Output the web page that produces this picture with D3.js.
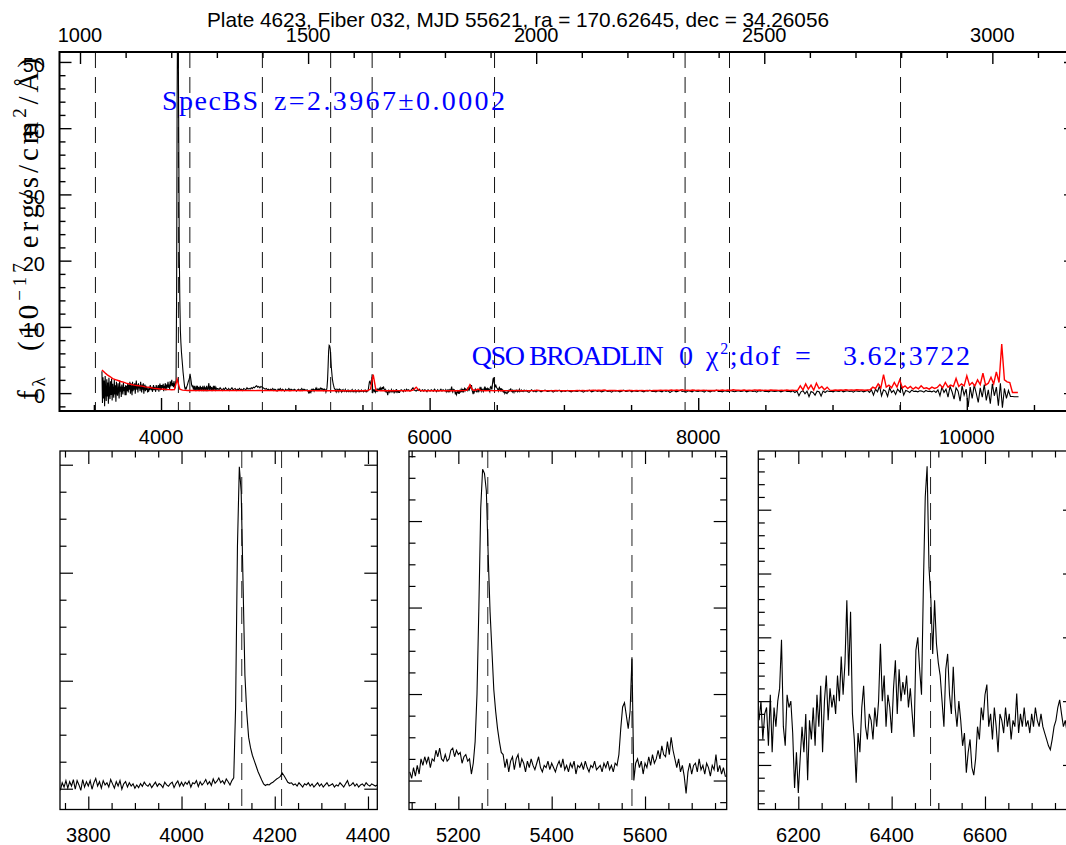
<!DOCTYPE html>
<html><head><meta charset="utf-8">
<script src="https://cdn.jsdelivr.net/npm/d3@7"></script>
<style>
body{margin:0;background:#fff;}
svg{display:block;}
.pre{white-space:pre;}
</style></head><body>
<svg id="chart" width="1066" height="845" font-family="'Liberation Sans',Arial,Helvetica,sans-serif"></svg>
<script>
// ---------------- DATA ----------------
const TITLE = "Plate 4623, Fiber 032, MJD 55621, ra = 170.62645, dec = 34.26056";
const REDSHIFT = 2.3967;
// rest wavelengths of marked lines (OVI, Lya, NV, SiIV, CIV, HeII, CIII], CII], [NeIV], MgII)
const lineRestWaves = [1033.82, 1215.67, 1240.81, 1399.8, 1549.48, 1640.42, 1908.73, 2326.44, 2423.83, 2798.75];
const panelLineRest = [[1215.67, 1240.81], [1549.48, 1640.42], [1908.73]];

// flux segments (1e-17 erg/s/cm2/A), each on a regular wavelength grid
const blueEndStart = 3560, blueEndStep = 4;
const blueEndFlux = [3.3,-1.5,2.4,-0.8,1.9,-2.0,2.6,0.2,-1.2,2.1,-0.5,1.6,-1.6,2.3,0.0,-0.9,1.8,-0.3,2.2,-1.1,1.4,0.3,-0.7,2.0,-0.2,1.2,-1.3,1.7,0.1,-0.4,1.5,0.4,-0.8,1.9,0.2,1.0,-0.6,1.3,0.5,-0.2,1.6,0.3,0.9,-0.3,1.2];

const zoomStep = 4;
const zoom1Start = 3740;
const zoom1Flux = [-0.3,1.1,0.3,1.5,0.1,1.3,0.5,1.7,-0.1,1.5,0.7,-0.3,1.7,0.3,1.3,0.5,
 1.5,-0.1,1.1,1.9,0.5,1.3,0.1,1.5,0.7,1.1,0.3,1.7,0.9,0.1,1.3,0.5,1.5,-0.1,0.9,1.3,0.3,1.1,0.5,0.9,0.1,
 0.7,0.2,0.95,0.45,1.2,0.7,0.45,0.95,0.2,0.7,1.2,0.45,0.95,0.7,0.2,1.2,0.7,0.45,0.95,1.2,0.2,0.95,1.45,0.45,1.2,
 0.5,1.2,0.8,1.4,0.3,1.1,0.9,1.5,0.4,1.3,0.7,1.1,1.7,0.8,1.3,0.6,1.8,1.0,1.4,2.0,1.1,1.5,0.9,1.8,1.3,0.7,1.5,
 2.0,15,45,59.6,55,38,21,14,9.5,7.6,6.2,5.2,4.2,3.2,2.4,1.6,0.9,0.6,0.8,0.7,1.0,1.2,1.5,1.8,2.0,2.3,2.9,2.4,1.8,1.2,1.0,
 1.1,0.7,0.9,0.5,1.1,0.7,0.3,0.9,0.7,1.1,0.5,0.9,
 0.3,0.7,1.1,0.5,0.9,0.3,0.7,1.1,0.5,0.7,0.9,0.3,
 0.7,0.5,1.1,0.7,0.3,0.9,1.5,0.5,0.7,1.1,0.5,0.9,
 0.3,0.7,0.9,0.5,1.1,0.7,0.5,0.9,0.7,0.5,0.7];

const midStep = 8;
const mid1Start = 4424;
const mid1Flux = [0.7,0.5,0.8,0.6,0.4,0.7,0.5,0.8,0.6,0.5,
 0.7,0.4,0.6,0.8,0.5,0.6,0.7,0.4,0.6,0.5,
 0.7,0.5,0.6,0.4,0.7,0.6,0.5,0.8,0.6,0.7,
 0.6,0.8,0.7,0.9,0.8,1.0,1.1,0.9,1.0,0.8,
 1.0,0.9,0.8,0.7,0.6,0.7,0.5,0.6,0.4,0.6,
 0.5,0.7,0.4,0.6,0.5,0.3,0.6,0.5,0.7,0.4,
 0.6,0.5,0.3,0.6,0.4,0.5,0.7,0.4,0.6,0.5,
 0.4,0.6,0.5,0.3,0.5,0.6,0.4,0.5,0.7,0.4,
 0.6,0.5,0.4,0.5];

const zoom2Start = 5096;
const zoom2Flux = [0.2,0.05,0.3,0.1,0.35,0.15,0.5,0.35,0.55,0.4,
 0.55,0.3,0.5,0.45,0.7,0.55,0.75,0.5,0.45,0.6,
 0.45,0.5,0.7,0.75,0.55,0.7,0.6,0.65,0.4,0.55,
 0.6,0.45,0.5,0.15,0.4,
 0.9,2.0,4.0,6.3,7.2,7.1,6.7,5.2,3.9,3.0,2.1,1.6,1.2,0.9,0.65,0.6,
 0.3,0.5,0.2,0.45,0.55,0.25,0.5,0.6,0.3,0.5,
 0.4,0.2,0.45,0.3,0.5,0.35,0.25,0.4,0.55,0.3,
 0.2,0.35,0.3,0.45,0.25,0.4,0.3,0.2,0.35,0.45,
 0.3,0.5,0.25,0.35,0.2,0.4,0.3,0.45,0.15,0.35,
 0.3,0.4,0.25,0.45,0.3,0.2,0.35,0.3,0.45,0.25,
 0.3,0.35,0.2,0.4,0.3,0.45,0.25,0.35,0.2,0.4,
 0.35,0.6,1.2,1.7,1.8,1.5,1.2,1.6,2.85,0.0,0.4,0.5,
 0.3,0.45,0.15,0.4,0.3,0.55,0.35,0.6,0.4,0.5,
 0.7,0.5,0.8,0.6,0.55,0.9,0.6,1.0,0.7,0.5,
 0.3,0.5,0.2,0.35,0.1,-0.3,0.2,0.4,0.15,0.35,
 0.4,0.2,0.5,0.25,0.35,0.15,0.4,0.3,0.1,0.35,
 0.25,0.6,0.2,0.35,0.15,0.3,0.1,0.1];

const mid2Start = 5780;
const mid2Flux = [0.3,0.5,0.4,0.2,0.5,0.3,0.6,0.4,0.5,0.3,
 0.4,0.6,0.8,0.5,0.4,0.3,0.5,0.4,0.6,0.3,
 0.4,0.5,0.3,0.5,0.4,0.2,0.5,0.4,0.3,0.5,
 0.4,0.3,0.6,0.4,0.2,0.5,0.3,0.4,0.6,0.3,0.5,0.4];

const zoom3Start = 6116;
const zoom3Flux = [0.35,0.5,0.2,0.4,
 0.45,0.15,0.55,0.1,0.45,0.3,0.5,0.6,0.98,0.3,
 0.15,0.55,0.45,0.5,0.25,-0.18,0.1,-0.22,0.05,0.3,
 0.1,0.4,-0.12,0.35,0.2,0.45,0.15,0.55,0.3,0.62,
 0.1,0.5,0.7,0.35,0.6,0.45,0.55,0.4,0.7,0.5,
 0.85,0.55,0.8,1.29,0.7,1.2,0.4,0.2,-0.14,0.25,
 0.1,0.45,0.62,0.3,0.2,0.4,0.35,0.2,0.45,0.3,
 0.5,0.95,0.5,0.7,0.3,0.55,0.45,0.25,0.6,0.82,
 0.4,0.75,0.5,0.65,0.55,0.7,0.45,0.6,0.4,0.22,
 0.9,1.0,0.75,0.55,1.4,2.1,2.34,1.55,1.3,0.87,
 1.29,0.95,0.8,0.7,0.5,0.3,0.75,0.87,0.55,0.4,
 0.77,0.45,0.3,0.5,0.35,0.15,0.25,-0.06,0.1,0.2,
 -0.02,-0.08,0.05,0.3,0.2,0.45,0.35,0.55,0.63,0.3,
 0.4,0.2,0.45,0.3,0.1,0.4,0.35,0.25,0.45,0.3,
 0.4,0.2,0.35,0.3,0.56,0.25,0.4,0.3,0.45,0.3,
 0.35,0.25,0.4,0.3,0.45,0.35,0.3,0.4,0.3,0.25,
 0.2,0.15,0.12,0.2,0.3,0.35,0.45,0.51,0.4,0.3,
 0.35,0.25,0.4,0.3,0.35,0.2,0.4];

const tailStart = 6800, tailStep = 15;
const tailFlux = [0.3,0.4,0.2,0.35,0.45,0.25,0.3,0.4,0.15,0.35,0.3,0.45,0.2,0.35,0.25,0.4,0.3,0.2,0.35,0.3,
 0.25,0.4,0.3,0.15,0.35,0.3,0.45,0.2,0.3,0.4,0.25,0.35,0.2,0.3,0.4,0.25,0.3,0.15,0.35,0.3,
 0.35,0.2,0.3,0.45,0.25,0.3,0.4,0.2,0.35,0.3,0.25,0.4,0.3,0.2,0.35,0.3,0.45,0.25,0.3,0.2,
 0.35,0.3,0.2,0.4,0.25,0.35,0.1,0.3,0.4,0.2,0.3,0.45,0.25,0.3,0.15,0.35,0.3,0.2,0.4,0.3,
 0.25,0.35,0.3,0.15,0.4,0.3,0.2,0.35,0.3,0.45,0.25,0.3,0.2,0.35,0.3,0.25,0.4,0.3,0.2,0.3,
 0.35,0.25,0.3,0.4,0.2,0.3,0.35,0.25,0.3,0.15,0.35,0.3,0.4,0.25,0.3,0.2,0.35,0.3,0.25,0.3,
 0.35,0.2,0.3,0.4,0.25,0.3,0.2,0.35,0.1,0.3,-0.4,0.2,0.35,-0.1,0.3,-0.55,0.25,0.1,-0.3,0.3,
 0.2,-0.45,0.3,0.1,0.35,0.25,0.3,0.2,0.35,0.3,0.25,0.4,0.2,0.3,0.35,0.25,0.3,0.15,0.35,0.3,
 0.25,0.35,0.2,0.3,0.4,0.1,0.5,-0.3,0.6,0.2,1.1,-0.4,0.5,0.3,-0.5,0.8,0.1,0.4,-0.2,0.6,
 0.2,0.9,-0.3,0.4,0.3,0.1,0.45,0.25,0.3,0.2,0.35,0.3,0.15,0.4,0.25,0.3,0.2,0.35,0.1,0.5,
 -0.4,0.9,0.1,0.6,-0.6,1.0,0.2,-0.9,0.8,0.3,-1.2,1.1,-0.3,0.6,-2.1,0.9,-0.8,1.2,0.0,-1.4,
 0.8,-0.6,1.3,-1.1,0.5,-1.6,1.4,-0.4,0.9,-1.9,1.5,-2.2,0.7,-0.8,0.4,-0.5,-0.5,-0.55,-0.55,-0.55];

// red (sky) spectrum
const skyStart = 3560, skyStep = 20;
const skyFlux = [3.5,3.1,2.75,2.5,2.2,2.05,1.9,1.75,1.65,1.5,1.4,1.3,1.2,1.15,1.1,1.05,0.95,0.9,0.85,0.75,0.7,0.65,0.6,0.58,0.55,0.53,0.5,0.52,2.1,0.6,
 0.45,0.42,0.4,0.42,0.4,0.38,0.4,0.42,0.39,0.4,0.38,0.4,0.41,0.38,0.4,0.39,0.37,0.4,0.38,0.4,0.42,0.38,0.39,0.37,0.4,0.38,0.4,0.37,0.39,0.4,
 0.38,0.4,0.37,0.39,0.38,0.36,0.38,0.4,0.37,0.38,0.36,0.38,0.37,0.39,0.36,0.38,0.37,0.36,0.38,0.37,0.35,0.37,0.36,0.38,0.35,0.37,0.36,0.35,0.37,0.36,
 0.35,0.37,0.36,0.35,0.37,0.36,0.38,0.36,0.35,0.37,0.6,2.8,0.45,0.37,0.36,0.38,0.36,0.35,0.37,0.36,0.38,0.37,0.36,0.35,0.37,0.36,0.5,0.9,0.45,0.36,
 0.35,0.37,0.36,0.35,0.37,0.36,0.35,0.37,0.36,0.35,0.37,0.36,0.38,0.36,0.37,0.38,0.45,1.25,0.5,0.4,0.6,0.4,0.37,0.36,0.38,0.37,0.36,0.38,0.37,0.36,
 0.38,0.37,0.36,0.38,0.37,0.39,0.36,0.38,0.37,0.36,0.38,0.37,0.45,0.38,0.37,0.36,0.38,0.37,0.36,0.39,0.37,0.38,0.36,0.37,0.38,0.36,0.37,0.39,0.38,0.4,
 0.38,0.42,0.4,0.45,0.39,0.43,0.4,0.46,0.38,0.41,0.39,0.4,0.38,0.41,0.39,0.38,0.4,0.39,0.37,0.4,0.38,0.39,0.37,0.4,0.38,0.39,0.42,0.4,0.44,0.41,
 0.45,0.42,0.48,0.41,0.46,0.4,0.5,0.42,0.44,0.4,0.47,0.41,0.43,0.4,0.45,0.41,0.39,0.42,0.4,0.44,0.41,0.48,0.42,0.46,0.4,0.5,0.43,0.45,0.41,0.47,
 0.42,0.45,0.4,0.48,0.43,0.46,0.41,0.44,0.42,0.47,0.43,0.45,0.41,0.44,0.4,0.46,0.42,0.45,0.41,0.43,1.1,0.5,1.4,0.6,1.2,0.45,1.5,0.7,1.0,0.5,
 0.9,0.45,0.42,0.46,0.43,0.48,0.44,0.5,0.45,0.47,0.43,0.5,0.46,0.48,0.44,0.47,0.5,0.9,0.7,1.4,0.8,2.8,0.9,1.2,0.8,1.6,0.9,2.0,0.8,1.1,
 0.7,1.0,0.6,0.9,0.65,1.1,0.7,0.8,0.6,0.9,0.7,0.85,1.3,0.8,1.6,0.9,1.2,1.0,2.2,1.0,1.4,1.1,2.6,1.2,1.6,1.1,2.0,1.3,3.0,1.2,
 1.5,2.4,1.4,3.2,1.6,7.4,2.0,1.7,1.6,0.1,0.1,0.1];

// tick values
const mainYMajor = [0, 10, 20, 30, 40, 50];
const mainRestMajor = [1000, 1500, 2000, 2500, 3000];
const mainObsMajor = [4000, 6000, 8000, 10000];
const panelXMajor = [[3800, 4000, 4200, 4400], [5200, 5400, 5600], [6200, 6400, 6600]];
const panelYMajor = [[0, 20, 40, 60], [0, 2, 4, 6], [0, 0.5, 1, 1.5, 2]];
const panelYMinorStep = [5, 0.5, 0.1];

const annoSpec = ["SpecBS", "z=2.3967\u00b10.0002"];
const annoClass = ["QSO BROADLIN", "0", "\u03c7", "2", ";dof", "=", "3.62;3722"];

// ---------------- HELPERS ----------------
function series(start, step, vals) { return vals.map((v, i) => [start + step * i, v]); }
const svg = d3.select("#chart");
const defs = svg.append("defs");
const serif = "'Liberation Serif','Times New Roman',serif";
let clipId = 0;

function ticks(g, gen, scale, values, size, tx, ty, sw) {
  const ax = gen(scale).tickValues(values).tickSize(size).tickFormat("");
  const gg = g.append("g").attr("transform", `translate(${tx},${ty})`).call(ax);
  gg.select(".domain").remove();
  gg.selectAll(".tick line").attr("stroke", "#000").attr("stroke-width", sw);
}
function inDom(vals, s) { const d = s.domain(); const lo = Math.min(d[0], d[1]), hi = Math.max(d[0], d[1]); return vals.filter(v => v >= lo - 1e-9 && v <= hi + 1e-9); }
function minorRange(start, stop, step, majors) {
  return d3.range(Math.round(start / step), Math.round(stop / step) + 1).map(k => +(k * step).toFixed(6)).filter(v => !majors.some(m => Math.abs(m - v) < 1e-6));
}
function clip(x0, y0, x1, y1) {
  const id = "c" + (clipId++);
  defs.append("clipPath").attr("id", id).append("rect").attr("x", x0).attr("y", y0).attr("width", x1 - x0).attr("height", y1 - y0);
  return `url(#${id})`;
}

// ---------------- MAIN PANEL ----------------
const M = { x0: 59.5, x1: 1076, y0: 52, y1: 411 };
const xMain = d3.scaleLinear().domain([3244, 10813]).range([M.x0, M.x1]);
const xRest = d3.scaleLinear().domain([3244 / (1 + REDSHIFT), 10813 / (1 + REDSHIFT)]).range([M.x0, M.x1]);
const yMain = d3.scaleLinear().domain([-2.7, 51.5]).range([M.y1, M.y0]);

const mainBlack = [].concat(
  series(blueEndStart, blueEndStep, blueEndFlux),
  series(zoom1Start, zoomStep, zoom1Flux),
  series(mid1Start, midStep, mid1Flux),
  series(zoom2Start, zoomStep, zoom2Flux),
  series(mid2Start, midStep, mid2Flux),
  series(zoom3Start, zoomStep, zoom3Flux),
  series(tailStart, tailStep, tailFlux));
const mainRed = series(skyStart, skyStep, skyFlux);

const gMain = svg.append("g");
const mainClip = clip(M.x0, M.y0, M.x1, M.y1);
const lineMain = d3.line().x(d => xMain(d[0])).y(d => yMain(d[1]));

gMain.append("g").selectAll("line").data(lineRestWaves).join("line")
  .attr("x1", d => xMain(d * (1 + REDSHIFT))).attr("x2", d => xMain(d * (1 + REDSHIFT)))
  .attr("y1", M.y0).attr("y2", M.y1)
  .attr("stroke", "#111").attr("stroke-width", 1).attr("stroke-dasharray", "16,9");

gMain.append("path").datum(mainBlack).attr("d", lineMain).attr("fill", "none")
  .attr("stroke", "#000").attr("stroke-width", 1.1).attr("clip-path", mainClip);
gMain.append("path").datum(mainRed).attr("d", lineMain).attr("fill", "none")
  .attr("stroke", "#ff0000").attr("stroke-width", 1.4).attr("clip-path", mainClip);

const yMinMain = minorRange(-2, 50, 2, mainYMajor);
ticks(gMain, d3.axisRight, yMain, mainYMajor, 12, M.x0, 0, 1.4);
ticks(gMain, d3.axisRight, yMain, inDom(yMinMain, yMain), 6, M.x0, 0, 1.4);
ticks(gMain, d3.axisLeft, yMain, mainYMajor, 12, M.x1, 0, 1.4);
ticks(gMain, d3.axisLeft, yMain, inDom(yMinMain, yMain), 6, M.x1, 0, 1.4);
const obsMinor = minorRange(3500, 10500, 500, mainObsMajor);
ticks(gMain, d3.axisTop, xMain, mainObsMajor, 13, 0, M.y1, 1.4);
ticks(gMain, d3.axisTop, xMain, inDom(obsMinor, xMain), 6, 0, M.y1, 1.4);
const restMinor = minorRange(1000, 3100, 100, mainRestMajor);
ticks(gMain, d3.axisBottom, xRest, mainRestMajor, 12, 0, M.y0, 1.4);
ticks(gMain, d3.axisBottom, xRest, inDom(restMinor, xRest), 6, 0, M.y0, 1.4);

gMain.append("rect").attr("x", M.x0).attr("y", M.y0).attr("width", M.x1 - M.x0).attr("height", M.y1 - M.y0)
  .attr("fill", "none").attr("stroke", "#000").attr("stroke-width", 2);

gMain.append("g").selectAll("text").data(mainRestMajor).join("text")
  .attr("x", d => xRest(d)).attr("y", 41.5).attr("text-anchor", "middle").attr("font-size", 20).text(d => d);
gMain.append("g").selectAll("text").data(mainObsMajor).join("text")
  .attr("x", d => xMain(d)).attr("y", 443.5).attr("text-anchor", "middle").attr("font-size", 20).text(d => d);
gMain.append("g").selectAll("text").data(mainYMajor).join("text")
  .attr("x", 45).attr("y", d => yMain(d) + 10).attr("text-anchor", "end").attr("font-size", 20).text(d => d);

// title
svg.append("text").attr("x", 207).attr("y", 26.5).attr("font-size", 20.8)
  .attr("textLength", 622).attr("lengthAdjust", "spacing").text(TITLE);

// y-axis title
const yt = svg.append("text").attr("class", "pre")
  .attr("transform", "translate(38,229) rotate(-90)")
  .attr("text-anchor", "middle").attr("font-family", serif)
  .attr("font-size", 29).attr("textLength", 342).attr("lengthAdjust", "spacing");
yt.append("tspan").text("f");
yt.append("tspan").attr("font-size", 19).attr("dy", 7).text("\u03bb");
yt.append("tspan").attr("dy", -7).text("  (10");
yt.append("tspan").attr("font-size", 19).attr("dy", -12).text("\u221217");
yt.append("tspan").attr("dy", 12).text(" erg/s/cm");
yt.append("tspan").attr("font-size", 19).attr("dy", -12).text("2");
yt.append("tspan").attr("dy", 12).text("/\u00c5)");

// blue annotations
function blue(x, y, txt, len) {
  const t = svg.append("text").attr("x", x).attr("y", y).attr("fill", "#0000ff")
    .attr("font-family", serif).attr("font-size", 28).text(txt);
  if (len) t.attr("textLength", len).attr("lengthAdjust", "spacing");
  return t;
}
blue(162, 109.5, annoSpec[0], 96);
blue(274, 109.5, annoSpec[1], 231);
blue(471.7, 365, annoClass[0], 192);
blue(679, 365, annoClass[1]);
const chi = svg.append("text").attr("x", 706).attr("y", 365).attr("fill", "#0000ff")
  .attr("font-family", serif).attr("font-size", 28).attr("textLength", 74).attr("lengthAdjust", "spacing");
chi.append("tspan").text(annoClass[2]);
chi.append("tspan").attr("font-size", 16).attr("dy", -11).text(annoClass[3]);
chi.append("tspan").attr("dy", 11).text(annoClass[4]);
blue(795, 365, annoClass[5]);
blue(843, 365, annoClass[6], 127);

// ---------------- ZOOM PANELS ----------------
const panels = [
  { x0: 60, x1: 377.3, dom: [3739.3, 4420], ydom: [-3.85, 62.54], start: zoom1Start, flux: zoom1Flux },
  { x0: 409, x1: 726.7, dom: [5094.3, 5775], ydom: [-0.67, 7.62], start: zoom2Start, flux: zoom2Flux },
  { x0: 758.3, x1: 1076, dom: [6114.3, 6795], ydom: [-0.349, 2.46], start: zoom3Start, flux: zoom3Flux }
];
const P = { y0: 451, y1: 809.5 };
panels.forEach((p, k) => {
  const g = svg.append("g");
  const x = d3.scaleLinear().domain(p.dom).range([p.x0, p.x1]);
  const y = d3.scaleLinear().domain(p.ydom).range([P.y1, P.y0]);
  const cp = clip(p.x0, P.y0, p.x1, P.y1);
  g.append("g").selectAll("line").data(panelLineRest[k]).join("line")
    .attr("x1", d => x(d * (1 + REDSHIFT))).attr("x2", d => x(d * (1 + REDSHIFT)))
    .attr("y1", P.y0).attr("y2", P.y1)
    .attr("stroke", "#222").attr("stroke-width", 1).attr("stroke-dasharray", "17,9");
  g.append("path").datum(series(p.start, zoomStep, p.flux))
    .attr("d", d3.line().x(d => x(d[0])).y(d => y(d[1])))
    .attr("fill", "none").attr("stroke", "#000").attr("stroke-width", 1.1).attr("clip-path", cp);
  const xMaj = panelXMajor[k];
  const xMin = inDom(minorRange(Math.ceil(p.dom[0] / 50) * 50, Math.floor(p.dom[1] / 50) * 50, 50, xMaj), x);
  const yMaj = inDom(panelYMajor[k], y);
  const st = panelYMinorStep[k];
  const yMin = inDom(minorRange(Math.ceil(p.ydom[0] / st) * st, Math.floor(p.ydom[1] / st) * st, st, panelYMajor[k]), y);
  ticks(g, d3.axisTop, x, xMaj, 13, 0, P.y1, 1.2);
  ticks(g, d3.axisTop, x, xMin, 6.5, 0, P.y1, 1.2);
  ticks(g, d3.axisBottom, x, xMaj, 13, 0, P.y0, 1.2);
  ticks(g, d3.axisBottom, x, xMin, 6.5, 0, P.y0, 1.2);
  ticks(g, d3.axisRight, y, yMaj, 13, p.x0, 0, 1.2);
  ticks(g, d3.axisRight, y, yMin, 6.5, p.x0, 0, 1.2);
  ticks(g, d3.axisLeft, y, yMaj, 13, p.x1, 0, 1.2);
  ticks(g, d3.axisLeft, y, yMin, 6.5, p.x1, 0, 1.2);
  g.append("rect").attr("x", p.x0).attr("y", P.y0).attr("width", p.x1 - p.x0).attr("height", P.y1 - P.y0)
    .attr("fill", "none").attr("stroke", "#000").attr("stroke-width", 1.3);
  g.append("g").selectAll("text").data(xMaj).join("text")
    .attr("x", d => x(d)).attr("y", 841.5).attr("text-anchor", "middle").attr("font-size", 20).text(d => d);
});
</script>
</body></html>
